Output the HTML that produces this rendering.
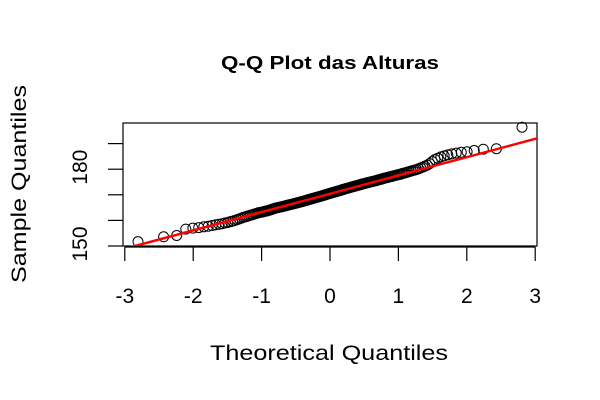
<!DOCTYPE html>
<html><head><meta charset="utf-8"><style>
html,body{margin:0;padding:0;background:#fff;}
svg{display:block;font-family:"Liberation Sans",Arial,sans-serif;}
</style></head><body>
<svg id="chart" width="600" height="400" viewBox="0 0 600 400" xmlns="http://www.w3.org/2000/svg">
<rect width="600" height="400" fill="#fff"/>
<text x="330" y="69" text-anchor="middle" font-size="18" font-weight="bold" textLength="218" lengthAdjust="spacingAndGlyphs">Q-Q Plot das Alturas</text>
<text x="329" y="360" text-anchor="middle" font-size="21" textLength="238" lengthAdjust="spacingAndGlyphs">Theoretical Quantiles</text>
<text transform="translate(26,184) rotate(-90)" text-anchor="middle" font-size="21" textLength="198" lengthAdjust="spacingAndGlyphs">Sample Quantiles</text>
<rect x="123" y="123" width="414" height="123" fill="none" stroke="#000" stroke-width="1.2"/>
<g id="xaxis"></g>
<g id="yaxis"></g>
<g id="points"></g>
<g id="lineg"></g>
</svg>
<script>
const xTicks = [-3,-2,-1,0,1,2,3];
const yTicks = [150,160,170,180,190];
const yTickLabels = ["150","","","180",""];
const sampleValues = [
151.7,153.6,154.1,156.6,157.0,157.2,157.5,157.7,158.0,158.3,
158.5,158.7,159.0,159.2,159.5,159.7,160.0,160.3,160.6,160.9,
161.2,161.4,161.6,161.8,162.0,162.2,162.4,162.6,162.8,163.0,
163.1,163.2,163.3,163.5,163.6,163.7,163.8,164.0,164.1,164.3,
164.5,164.6,164.8,164.9,165.0,165.1,165.2,165.3,165.4,165.5,
165.6,165.7,165.8,165.9,166.0,166.1,166.2,166.3,166.4,166.5,
166.6,166.7,166.8,166.9,167.0,167.1,167.2,167.3,167.4,167.5,
167.6,167.7,167.8,167.9,168.0,168.1,168.2,168.3,168.4,168.5,
168.6,168.7,168.8,168.9,169.0,169.1,169.2,169.3,169.4,169.5,
169.6,169.7,169.8,169.9,170.0,170.1,170.2,170.3,170.4,170.5,
170.6,170.7,170.8,170.9,171.0,171.1,171.2,171.3,171.4,171.5,
171.6,171.7,171.8,171.9,172.0,172.1,172.2,172.3,172.4,172.5,
172.6,172.7,172.8,172.9,173.0,173.1,173.2,173.3,173.4,173.5,
173.6,173.7,173.8,173.9,174.0,174.1,174.2,174.3,174.4,174.5,
174.6,174.7,174.8,174.9,175.0,175.1,175.2,175.3,175.4,175.5,
175.6,175.8,175.9,176.0,176.1,176.2,176.4,176.5,176.6,176.7,
176.8,177.0,177.1,177.2,177.4,177.5,177.6,177.8,177.9,178.0,
178.2,178.4,178.5,178.7,178.9,179.1,179.3,179.5,179.7,179.9,
180.2,180.5,180.8,181.2,181.6,182.2,183.0,183.8,184.3,184.8,
185.2,185.6,186.0,186.3,186.6,186.8,187.3,187.8,188.0,196.4];
const lineIntercept = [170.4];
const lineSlope = [7.15];

const NS="http://www.w3.org/2000/svg";
const X0=330, XS=68.4, Y0=246, YS=2.56;
function sx(v){return X0+v*XS;}
function sy(v){return Y0-(v-150)*YS;}
function el(tag,attrs,parent){const e=document.createElementNS(NS,tag);for(const k in attrs)e.setAttribute(k,attrs[k]);parent.appendChild(e);return e;}
function qnorm(p){
 const a=[-39.69683028665376,220.9460984245205,-275.9285104469687,138.3577518672690,-30.66479806614716,2.506628277459239];
 const b=[-54.47609879822406,161.5858368580409,-155.6989798598866,66.80131188771972,-13.28068155288572];
 const c=[-0.007784894002430293,-0.3223964580411365,-2.400758277161838,-2.549732539343734,4.374664141464968,2.938163982698783];
 const d=[0.007784695709041462,0.3224671290700398,2.445134137142996,3.754408661907416];
 let q,r;
 if(p<0.02425){q=Math.sqrt(-2*Math.log(p));return (((((c[0]*q+c[1])*q+c[2])*q+c[3])*q+c[4])*q+c[5])/((((d[0]*q+d[1])*q+d[2])*q+d[3])*q+1);}
 if(p>1-0.02425){q=Math.sqrt(-2*Math.log(1-p));return -(((((c[0]*q+c[1])*q+c[2])*q+c[3])*q+c[4])*q+c[5])/((((d[0]*q+d[1])*q+d[2])*q+d[3])*q+1);}
 q=p-0.5;r=q*q;return (((((a[0]*r+a[1])*r+a[2])*r+a[3])*r+a[4])*r+a[5])*q/(((((b[0]*r+b[1])*r+b[2])*r+b[3])*r+b[4])*r+1);
}
const xa=document.getElementById('xaxis');
el('line',{x1:sx(xTicks[0]),x2:sx(xTicks[xTicks.length-1]),y1:247,y2:247,stroke:'#000','stroke-width':1.2},xa);
xTicks.forEach(t=>{
 const l=el('line',{x1:sx(t),x2:sx(t),y1:247,y2:261,stroke:'#000','stroke-width':1.2},xa);
 
 
 const tx=el('text',{x:sx(t),y:303,'text-anchor':'middle','font-size':21},xa);
 
 
 tx.textContent=String(t);
});
const ya=document.getElementById('yaxis');
yTicks.forEach((t,i)=>{
 const l=el('line',{x1:108,x2:123,y1:sy(t),y2:sy(t),stroke:'#000','stroke-width':1.2},ya);
 
 
 if(yTickLabels[i]){
  const tx=el('text',{transform:`translate(87,${sy(t)-2}) rotate(-90)`,'text-anchor':'middle','font-size':21},ya);
  
  
  tx.textContent=yTickLabels[i];
 }
});
const pg=document.getElementById('points');
const n=sampleValues.length;
sampleValues.forEach((v,i)=>{
 const z=qnorm((i+0.5)/n);
 const c=el('circle',{cx:sx(z),cy:sy(v),r:5,fill:'none',stroke:'#000','stroke-width':1},pg);
 
 
});
const lg=document.getElementById('lineg');
const za=-3.2, zb=3.03;
const ln=el('line',{x1:sx(za),y1:sy(lineIntercept[0]+lineSlope[0]*za),x2:sx(zb),y2:sy(lineIntercept[0]+lineSlope[0]*zb),stroke:'#ff0000','stroke-width':2.5},lg);


const cp=el('clipPath',{id:'clip'},document.getElementById('chart'));
el('rect',{x:123,y:123,width:414,height:123},cp);
lg.setAttribute('clip-path','url(#clip)');
</script>
</body></html>
